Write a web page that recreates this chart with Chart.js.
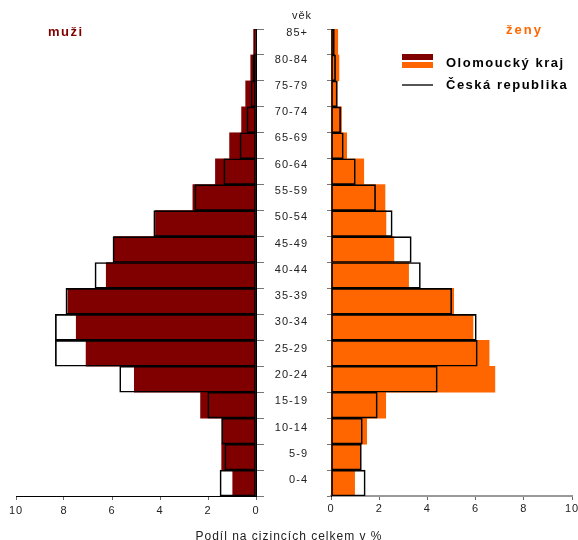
<!DOCTYPE html>
<html>
<head>
<meta charset="utf-8">
<script src="https://cdn.jsdelivr.net/npm/chart.js@4.4.1/dist/chart.umd.min.js"></script>
<style>
  body { margin: 0; background: #fff; font-family: 'Liberation Sans', Arial, sans-serif; }
  #wrap { position: relative; width: 578px; height: 540px; overflow: hidden; }
  .box { position: absolute; }
  .txt { position: absolute; white-space: nowrap; line-height: 1; }
</style>
</head>
<body>
<div id="wrap">
  <div class="box" style="left:0;top:0;width:270px;height:540px"><canvas id="menChart"></canvas></div>
  <div class="box" style="left:270px;top:0;width:308px;height:540px"><canvas id="womenChart"></canvas></div>

  <div class="txt" style="left:285px;top:10px;width:34px;text-align:center;font-size:11px;letter-spacing:1px;color:#222">věk</div>
  <div class="txt" style="left:48px;top:25px;font-size:13px;font-weight:bold;letter-spacing:1.5px;color:#800000">muži</div>
  <div class="txt" style="left:506px;top:23px;font-size:13px;font-weight:bold;letter-spacing:2px;color:#ff6600">ženy</div>

  <div class="box" style="left:402px;top:54px;width:31px;height:6px;background:#800000"></div>
  <div class="box" style="left:402px;top:62px;width:31px;height:6px;background:#ff6600"></div>
  <div class="box" style="left:402px;top:84px;width:31px;height:2px;background:#555"></div>
  <div class="txt" style="left:446px;top:56px;font-size:13px;font-weight:bold;letter-spacing:1.5px;color:#000">Olomoucký kraj</div>
  <div class="txt" style="left:446px;top:78px;font-size:13px;font-weight:bold;letter-spacing:1.5px;color:#000">Česká republika</div>

  <div class="txt" style="left:0;top:530px;width:578px;text-align:center;font-size:12px;letter-spacing:1px;color:#222">Podíl na cizincích celkem v %</div>
</div>

<script>
// === DATA ===
var ageGroups = ['85+', '80-84', '75-79', '70-74', '65-69', '60-64', '55-59', '50-54', '45-49',
                 '40-44', '35-39', '30-34', '25-29', '20-24', '15-19', '10-14', '5-9', '0-4'];

// share of all foreigners, %
var menOlomouc   = [0.10, 0.22, 0.43, 0.60, 1.10, 1.69, 2.63, 4.19, 5.92, 6.24, 7.84, 7.49, 7.08, 5.07, 2.31, 1.42, 1.43, 0.97];
var menCzech     = [0.06, 0.13, 0.21, 0.38, 0.67, 1.34, 2.55, 4.26, 5.96, 6.71, 7.92, 8.36, 8.36, 5.68, 2.01, 1.43, 1.30, 1.50];
var womenOlomouc = [0.28, 0.33, 0.26, 0.44, 0.65, 1.36, 2.24, 2.28, 2.61, 3.22, 5.09, 5.89, 6.56, 6.80, 2.27, 1.48, 1.20, 0.98];
var womenCzech   = [0.14, 0.19, 0.26, 0.40, 0.51, 1.01, 1.85, 2.54, 3.33, 3.71, 5.01, 6.03, 6.07, 4.41, 1.92, 1.30, 1.26, 1.42];

var xTicks = [0, 2, 4, 6, 8, 10];

var FONT = "'Liberation Sans', Arial, sans-serif";

// canvas text gets a bit of tracking like the original
var spacingPlugin = {
  id: 'spacing',
  beforeDraw: function(chart) { chart.ctx.letterSpacing = '1px'; }
};

function noPad(axis) {
  axis.paddingLeft = 0; axis.paddingRight = 0;
  axis.paddingTop = 0; axis.paddingBottom = 0;
}

function makeDatasets(olomouc, czech, fill) {
  return [
    {
      label: 'Česká republika',
      data: czech,
      backgroundColor: 'rgba(0,0,0,0)',
      borderColor: '#000', borderWidth: 1, borderSkipped: false,
      grouped: false, order: 0,
      barPercentage: 1, categoryPercentage: 1
    },
    {
      label: 'Olomoucký kraj',
      data: olomouc,
      backgroundColor: fill, borderWidth: 0,
      grouped: false, order: 1,
      barPercentage: 1, categoryPercentage: 1
    }
  ];
}

function xScale(reverse, axisColor, labelPad) {
  return {
    type: 'linear', min: 0, max: 10, reverse: reverse,
    afterBuildTicks: function(axis) { axis.ticks = xTicks.map(function(v) { return { value: v }; }); },
    afterFit: function(axis) { axis.height = 30; noPad(axis); },
    grid: { display: true, drawOnChartArea: false, drawTicks: true, tickLength: 4, color: '#666' },
    border: { display: true, color: axisColor, width: reverse ? 1 : 2 },
    ticks: { padding: labelPad, color: '#222', font: { family: FONT, size: 11 }, maxRotation: 0 }
  };
}

var commonOpts = {
  indexAxis: 'y',
  responsive: true, maintainAspectRatio: false, animation: false,
  plugins: { legend: { display: false }, tooltip: { enabled: false } }
};

// === MEN (left, reversed) ===
new Chart(document.getElementById('menChart'), {
  type: 'bar',
  data: { labels: ageGroups, datasets: makeDatasets(menOlomouc, menCzech, '#800000') },
  options: Object.assign({}, commonOpts, {
    layout: { padding: { left: 16, right: 6, top: 29, bottom: 14 } },
    scales: {
      x: xScale(true, '#000', 4),
      y: {
        position: 'right',
        afterFit: function(axis) { axis.width = 8; noPad(axis); },
        grid: { display: true, drawOnChartArea: false, drawTicks: true, tickLength: 8, color: '#777' },
        border: { display: true, color: '#000', width: 1 },
        ticks: { display: false }
      }
    }
  }),
  plugins: [spacingPlugin]
});

// === WOMEN (right) ===
// the age labels in the original sit on a slightly wider grid than the bars,
// so they get their own index axis
new Chart(document.getElementById('womenChart'), {
  type: 'bar',
  data: { labels: ageGroups, datasets: makeDatasets(womenOlomouc, womenCzech, '#ff6600') },
  options: Object.assign({}, commonOpts, {
    layout: { padding: { left: 0, right: 6, top: 29, bottom: 14 } },
    scales: {
      x: xScale(false, '#999', 2),
      y: {
        position: 'left', weight: 0,
        afterFit: function(axis) { axis.width = 4; noPad(axis); },
        grid: { display: true, drawOnChartArea: false, drawTicks: true, tickLength: 4, color: '#777' },
        border: { display: true, color: '#000', width: 1 },
        ticks: { display: false }
      },
      ageLabels: {
        type: 'linear', axis: 'y', position: 'left', weight: 1,
        offset: false, reverse: true, min: -0.16, max: 17.6,
        afterBuildTicks: function(axis) { axis.ticks = ageGroups.map(function(g, i) { return { value: i }; }); },
        afterFit: function(axis) { axis.width = 57; noPad(axis); },
        grid: { display: false, drawTicks: false, offset: false },
        border: { display: false },
        ticks: {
          padding: 19, color: '#222', font: { family: FONT, size: 11 },
          callback: function(v) { return ageGroups[v]; }
        }
      }
    }
  }),
  plugins: [spacingPlugin]
});
</script>
</body>
</html>
